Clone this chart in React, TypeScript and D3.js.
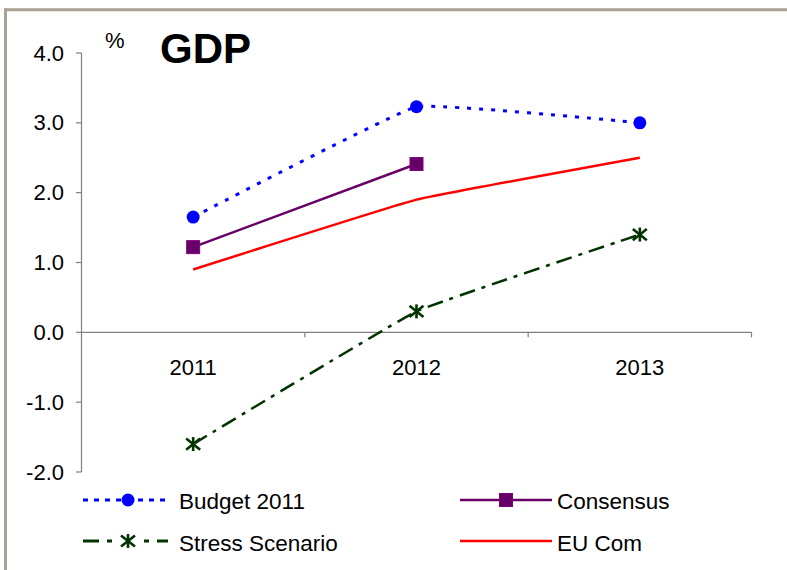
import React from "react";
import * as d3 from "d3";

const years = ["2011", "2012", "2013"];
const budget2011 = [1.65, 3.23, 3.0];
const consensus = [1.22, 2.41];
const euCom = [0.9, 1.9, 2.5];
const stress = [-1.6, 0.3, 1.4];
const yTicks = [4, 3, 2, 1, 0, -1, -2];
const legendNames = ["Budget 2011", "Consensus", "Stress Scenario", "EU Com"];

const W = 787;
const H = 570;
const FONT = "'Liberation Sans', Arial, sans-serif";

export default function App() {
  const x = d3.scaleBand<string>().domain(years).range([81.5, 751.5]);
  const y = d3.scaleLinear().domain([-2, 4]).range([472, 53]);
  const cx = (i: number) => (x(years[i]) as number) + x.bandwidth() / 2;

  const smooth = d3
    .line<number>()
    .x((_, i) => cx(i))
    .y((d) => y(d))
    .curve(d3.curveCardinal.tension(0.75));
  const straight = d3
    .line<number>()
    .x((_, i) => cx(i))
    .y((d) => y(d));

  const star = (px: number, py: number, s: number, color: string, key?: any) => (
    <g key={key} stroke={color} strokeWidth={2.6}>
      <line x1={px} y1={py - s} x2={px} y2={py + s} />
      <line x1={px - s} y1={py - s * 0.8} x2={px + s} y2={py + s * 0.8} />
      <line x1={px - s} y1={py + s * 0.8} x2={px + s} y2={py - s * 0.8} />
    </g>
  );

  const blue = "#0000ff";
  const purple = "#660066";
  const green = "#003300";
  const red = "#ff0000";
  const axisColor = "#808080";

  const legendRows = [500, 541];
  const legendCols = [
    { x1: 83, x2: 168, m: 128, tx: 179 },
    { x1: 460, x2: 552, m: 506, tx: 557 },
  ];

  return (
    <svg
      width={W}
      height={H}
      style={{ position: "absolute", left: 0, top: 0, background: "#fff" }}
      fontFamily={FONT}
    >
      {/* frame */}
      <line x1={4} y1={9.8} x2={W} y2={9.8} stroke="#aaa194" strokeWidth={3} />
      <line x1={5.5} y1={8.3} x2={5.5} y2={H} stroke="#aaa194" strokeWidth={3} />

      {/* title */}
      <text x={105} y={48} fontSize={22} fill="#000">%</text>
      <text x={160} y={63} fontSize={42} fontWeight="bold" fill="#000">GDP</text>

      {/* y axis */}
      <line x1={81.5} y1={y(4)} x2={81.5} y2={y(-2)} stroke={axisColor} strokeWidth={1.2} />
      {yTicks.map((t) => (
        <g key={t}>
          <line x1={76} y1={y(t)} x2={81.5} y2={y(t)} stroke={axisColor} strokeWidth={1.2} />
          <text x={64} y={y(t) + 7.5} fontSize={22} textAnchor="end" fill="#000">
            {t.toFixed(1)}
          </text>
        </g>
      ))}

      {/* x axis */}
      <line x1={81.5} y1={y(0)} x2={751.5} y2={y(0)} stroke={axisColor} strokeWidth={1.2} />
      {years.map((yr, i) => {
        const bx = (x(yr) as number) + x.bandwidth();
        return (
          <g key={yr}>
            <line x1={bx} y1={y(0)} x2={bx} y2={y(0) + 5} stroke={axisColor} strokeWidth={1.2} />
            <text x={cx(i)} y={y(0) + 43} fontSize={22} textAnchor="middle" fill="#000">
              {yr}
            </text>
          </g>
        );
      })}

      {/* series */}
      <path d={smooth(euCom) || ""} fill="none" stroke={red} strokeWidth={2.5} />
      <path d={straight(consensus) || ""} fill="none" stroke={purple} strokeWidth={2.5} />
      <path
        d={smooth(stress) || ""}
        fill="none"
        stroke={green}
        strokeWidth={2.5}
        strokeDasharray="16,7,4,7"
      />
      <path
        d={smooth(budget2011) || ""}
        fill="none"
        stroke={blue}
        strokeWidth={3}
        strokeDasharray="4,8"
      />

      {budget2011.map((v, i) => (
        <circle key={"b" + i} cx={cx(i)} cy={y(v)} r={6.5} fill={blue} />
      ))}
      {consensus.map((v, i) => (
        <rect
          key={"c" + i}
          x={cx(i) - 6.5}
          y={y(v) - 6.5}
          width={13}
          height={13}
          fill={purple}
          stroke="#800080"
          strokeWidth={1}
        />
      ))}
      {stress.map((v, i) => star(cx(i), y(v), 7, green, "s" + i))}

      {/* legend */}
      <line
        x1={legendCols[0].x1}
        y1={legendRows[0]}
        x2={legendCols[0].x2}
        y2={legendRows[0]}
        stroke={blue}
        strokeWidth={3}
        strokeDasharray="5,6"
      />
      <circle cx={legendCols[0].m} cy={legendRows[0]} r={6.5} fill={blue} />
      <text x={legendCols[0].tx} y={legendRows[0] + 9} fontSize={22.5} fill="#000">
        {legendNames[0]}
      </text>

      <line
        x1={legendCols[1].x1}
        y1={legendRows[0]}
        x2={legendCols[1].x2}
        y2={legendRows[0]}
        stroke={purple}
        strokeWidth={2.5}
      />
      <rect
        x={legendCols[1].m - 6.5}
        y={legendRows[0] - 6.5}
        width={13}
        height={13}
        fill={purple}
        stroke="#800080"
        strokeWidth={1}
      />
      <text x={legendCols[1].tx} y={legendRows[0] + 9} fontSize={22.5} fill="#000">
        {legendNames[1]}
      </text>

      <line
        x1={legendCols[0].x1}
        y1={legendRows[1]}
        x2={legendCols[0].x2}
        y2={legendRows[1]}
        stroke={green}
        strokeWidth={3}
        strokeDasharray="16,8,5,8"
      />
      <rect x={legendCols[0].m - 9} y={legendRows[1] - 8} width={18} height={16} fill="#fff" />
      {star(legendCols[0].m, legendRows[1], 7, green)}
      <text x={legendCols[0].tx} y={legendRows[1] + 10} fontSize={22.5} fill="#000">
        {legendNames[2]}
      </text>

      <line
        x1={legendCols[1].x1}
        y1={legendRows[1]}
        x2={legendCols[1].x2}
        y2={legendRows[1]}
        stroke={red}
        strokeWidth={2.5}
      />
      <text x={legendCols[1].tx} y={legendRows[1] + 10} fontSize={22.5} fill="#000">
        {legendNames[3]}
      </text>
    </svg>
  );
}
